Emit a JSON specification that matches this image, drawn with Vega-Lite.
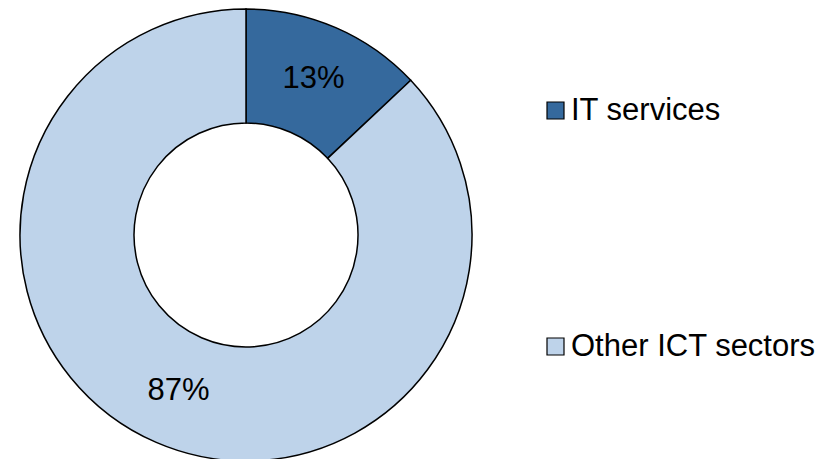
{
  "$schema": "https://vega.github.io/schema/vega-lite/v6.json",
  "width": 492,
  "height": 470,
  "padding": 0,
  "background": "white",
  "config": {"view": {"stroke": null}, "font": "Liberation Sans"},
  "data": {"values": [
    {"sector": "IT services", "share": 13, "label": "13%"},
    {"sector": "Other ICT sectors", "share": 87, "label": "87%"}
  ]},
  "encoding": {
    "theta": {"field": "share", "type": "quantitative", "stack": true},
    "color": {
      "field": "sector", "type": "nominal",
      "scale": {"domain": ["IT services", "Other ICT sectors"], "range": ["#35699D", "#BED3EA"]},
      "legend": {
        "title": null, "orient": "none", "legendX": 540, "legendY": 95,
        "padding": 0, "symbolType": "square", "symbolSize": 289,
        "symbolStrokeColor": "black", "symbolStrokeWidth": 1.2, "symbolOpacity": 1,
        "labelFontSize": 31, "labelColor": "black", "labelFont": "Liberation Sans",
        "labelOffset": 0, "rowPadding": 204, "labelLimit": 400
      }
    }
  },
  "layer": [
    {"mark": {"type": "arc", "outerRadius": 226, "innerRadius": 112, "stroke": "black", "strokeWidth": 1.5}},
    {"mark": {"type": "text", "radius": 170, "fontSize": 31, "color": "black", "font": "Liberation Sans"},
     "encoding": {"text": {"field": "label"}, "color": {"value": "black"}}}
  ]
}
